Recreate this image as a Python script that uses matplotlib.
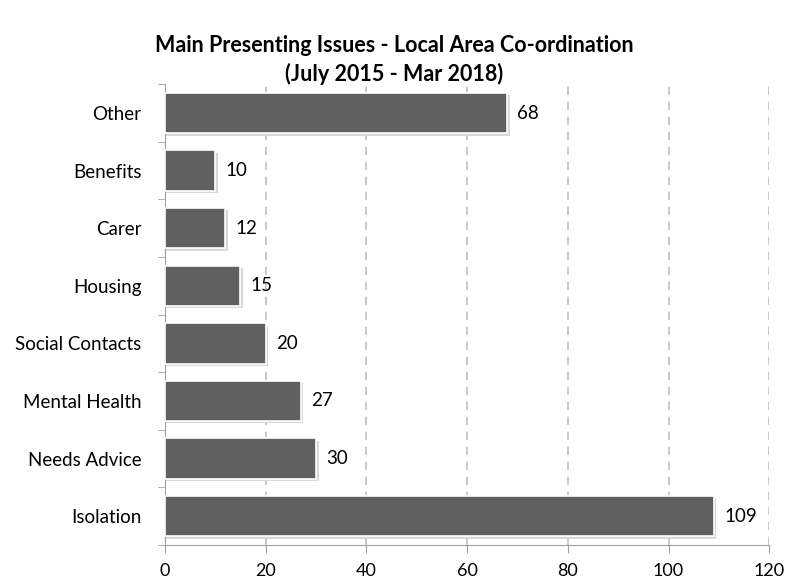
import matplotlib.pyplot as plt

categories = ["Isolation", "Needs Advice", "Mental Health", "Social Contacts",
              "Housing", "Carer", "Benefits", "Other"]
counts = [109, 30, 27, 20, 15, 12, 10, 68]
x_ticks = [0, 20, 40, 60, 80, 100, 120]

plt.rcParams['font.family'] = ['Lato', 'DejaVu Sans']

fig = plt.figure(figsize=(7.89, 5.81), dpi=100)
ax = fig.add_axes([0.209, 0.062, 0.766, 0.793])

pos = list(range(len(categories)))
# soft shadow behind the bars
ax.barh([p - 0.04 for p in pos], [c + 0.3 for c in counts], height=0.7,
        color="#d8d8d8", zorder=2, left=0.2)
ax.barh(pos, counts, height=0.7, color="#606060", edgecolor="white",
        linewidth=1.2, zorder=3)

for p, c in zip(pos, counts):
    ax.text(c + 2, p, str(c), va="center", ha="left", fontsize=13.5, color="black")

ax.set_xlim(0, 120)
ax.set_ylim(-0.5, len(categories) - 0.5)
ax.set_xticks(x_ticks)
ax.set_xticklabels([str(t) for t in x_ticks], fontsize=13)
ax.set_yticks(pos)
ax.set_yticklabels(categories, fontsize=13.5)
ax.tick_params(axis='y', length=0, pad=17)
ax.tick_params(axis='x', length=6, color="#a0a0a0", pad=7)

# category separator ticks on y-axis
ax.set_yticks([p - 0.5 for p in pos] + [len(categories) - 0.5], minor=True)
ax.tick_params(axis='y', which='minor', length=5, color="#a0a0a0")

ax.grid(axis='x', linestyle=(0, (5, 4)), color="#c0c0c0", linewidth=1.2, zorder=0)
ax.set_axisbelow(True)
for s in ["top", "right"]:
    ax.spines[s].set_visible(False)
ax.spines["left"].set_color("#a0a0a0")
ax.spines["bottom"].set_color("#a0a0a0")

fig.text(0.5, 0.897, "Main Presenting Issues - Local Area Co-ordination\n(July 2015 - Mar 2018)",
         ha="center", va="center", fontsize=15.5, fontweight="bold", linespacing=1.35)

plt.savefig("out.png", dpi=100)
